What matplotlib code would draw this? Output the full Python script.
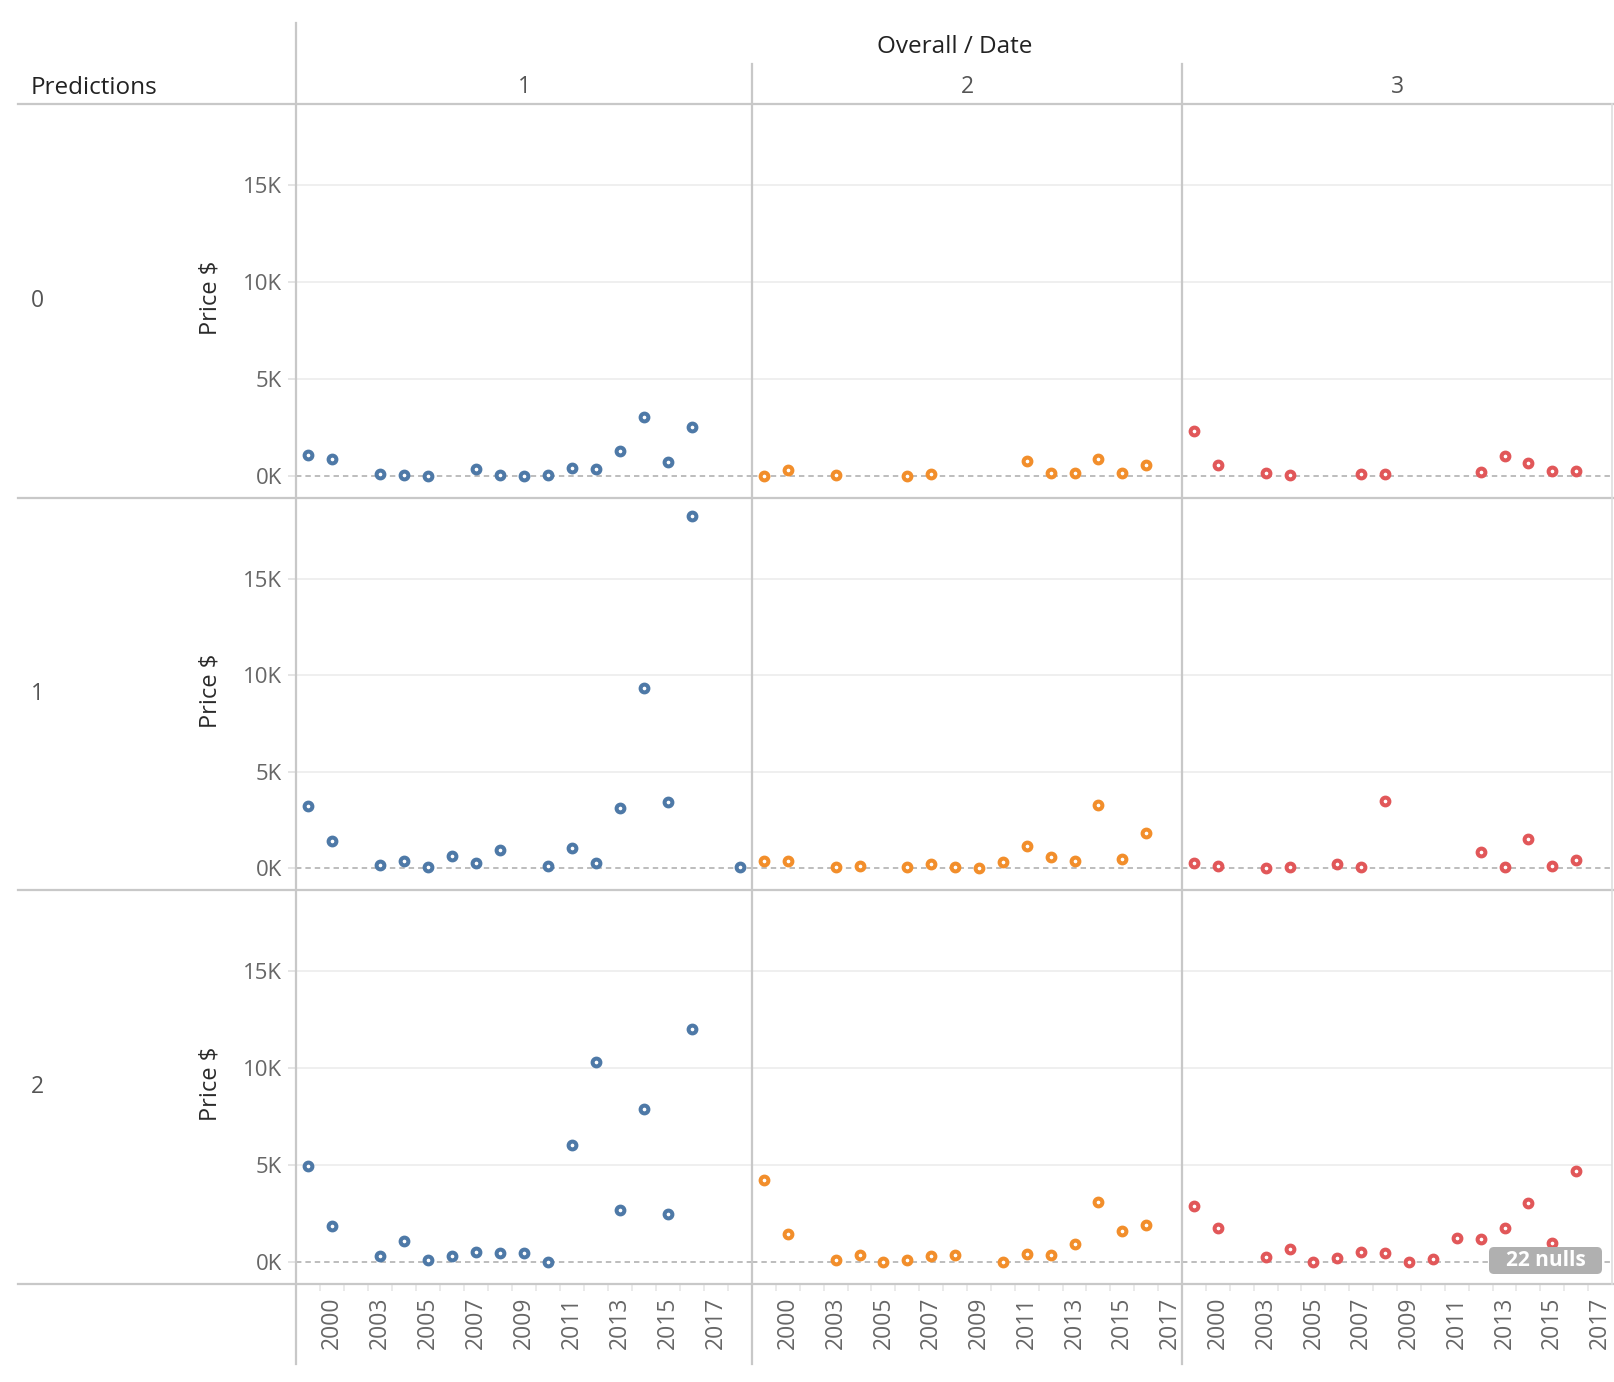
import numpy as np
import matplotlib
matplotlib.use("Agg")
import matplotlib.pyplot as plt
from matplotlib.lines import Line2D
from matplotlib.patches import FancyBboxPatch
from matplotlib.transforms import IdentityTransform

plt.rcParams['font.family'] = ['Open Sans', 'DejaVu Sans']

# ---------------- data ----------------
predictions = ['0', '1', '2']
overall = ['1', '2', '3']
colors = ['#4e79a7', '#f28e2b', '#e15759']

years_col1 = [1999, 2000, 2001, 2003, 2004, 2005, 2006, 2007, 2008, 2009,
              2010, 2011, 2012, 2013, 2014, 2015, 2016, 2017, 2018]
years_col23 = [1999, 2000, 2001, 2003, 2004, 2005, 2006, 2007, 2008, 2009,
               2010, 2011, 2012, 2013, 2014, 2015, 2016, 2017]
x_tick_labels = ['2000', '2003', '2005', '2007', '2009', '2011', '2013', '2015', '2017']
y_ticks = [0, 5000, 10000, 15000]
y_tick_labels = ['0K', '5K', '10K', '15K']
n = None
# Price $ per (prediction, overall) panel, aligned to the year lists above
price_p0_o1 = [1050, 870, n, 100, 20, 10, n, 330, 60, 0, 20, 390, 360, 1300, 3030, 720, 2500, n, n]
price_p1_o1 = [3210, 1410, n, 140, 350, 20, 590, 230, 940, n, 120, 1010, 260, 3120, 9340, 3400, 18250, n, 20]
price_p2_o1 = [4960, 1870, n, 300, 1080, 70, 300, 520, 430, 450, 0, 6040, 10330, 2670, 7880, 2460, 12030, n, n]

price_p0_o2 = [0, 310, n, 30, n, n, 0, 100, n, n, n, 760, 150, 150, 860, 140, 530, n]
price_p1_o2 = [380, 350, n, 20, 90, n, 30, 210, 20, 0, 310, 1110, 560, 360, 3250, 450, 1810, n]
price_p2_o2 = [4220, 1410, n, 90, 350, 0, 100, 310, 330, n, 0, 400, 350, 920, 3070, 1610, 1880, n]

price_p0_o3 = [2320, 530, n, 120, 30, n, n, 90, 70, n, n, n, 170, 1030, 650, 270, 270, n]
price_p1_o3 = [260, 120, n, 0, 20, n, 210, 50, 3470, n, n, n, 830, 30, 1490, 120, 420, n]
price_p2_o3 = [2900, 1750, n, 230, 680, 0, 210, 490, 430, 0, 140, 1230, 1150, 1720, 3020, 950, 4700, n]

panel_values = [
    [price_p0_o1, price_p0_o2, price_p0_o3],
    [price_p1_o1, price_p1_o2, price_p1_o3],
    [price_p2_o1, price_p2_o2, price_p2_o3],
]
panel_years = [years_col1, years_col23, years_col23]
null_count = 22

# ---------------- layout ----------------
W, H = 1614, 1382
fig = plt.figure(figsize=(W / 100, H / 100), dpi=100)
fig.patch.set_facecolor('white')


def fx(x):
    return x / W


def fy(y):
    return 1 - y / H


col_edges = [296, 752, 1182, 1612]
row_edges = [104, 498, 890, 1284]
YMIN, YMAX = -1150, 19200

line_c = '#c8c8c8'
tick_c = '#666666'

for r in range(3):
    for c in range(3):
        x0, x1 = col_edges[c], col_edges[c + 1]
        y0, y1 = row_edges[r], row_edges[r + 1]
        ax = fig.add_axes([fx(x0), fy(y1), (x1 - x0) / W, (y1 - y0) / H])
        yrs = panel_years[c]
        vals = np.array([np.nan if v is None else v for v in panel_values[r][c]], dtype=float)
        idx = np.arange(len(yrs))
        ax.set_xlim(-0.5, len(yrs) - 0.5)
        ax.set_ylim(YMIN, YMAX)
        for s in ax.spines.values():
            s.set_visible(False)
        for t in y_ticks[1:]:
            ax.axhline(t, color='#efefef', lw=1.4, zorder=1)
        ax.axhline(0, color='#b8b8b8', lw=1.3, ls=(0, (3, 2.2)), zorder=1.5)
        ax.plot(idx, vals, 'o', ls='none', ms=5.6, mew=2.9, mfc='white',
                mec=colors[c], zorder=3)
        # y axis
        ax.set_yticks(y_ticks)
        if c == 0:
            ax.set_yticklabels(y_tick_labels)
            ax.tick_params(axis='y', length=6, width=1.2, color='#e0e0e0',
                           labelcolor=tick_c, labelsize=16, pad=4)
        else:
            ax.tick_params(axis='y', left=False, labelleft=False)
        # x axis
        if r == 2:
            pos = [yrs.index(int(l)) for l in x_tick_labels]
            ax.set_xticks(pos)
            ax.set_xticklabels(x_tick_labels, rotation=90, va='top', ha='center')
            ax.set_xticks(idx[:-1] + 0.5, minor=True)
            ax.tick_params(axis='x', which='major', length=0, pad=9,
                           labelcolor=tick_c, labelsize=16.5)
            ax.tick_params(axis='x', which='minor', length=5, width=1.2,
                           color='#e6e6e6')
        else:
            ax.tick_params(axis='x', which='both', bottom=False, labelbottom=False)

# ---------------- frame lines ----------------
def hline(y, x0, x1, c=line_c, lw=1.6):
    fig.add_artist(Line2D([fx(x0), fx(x1)], [fy(y), fy(y)], color=c, lw=lw, zorder=5))


def vline(x, y0, y1, c=line_c, lw=1.6):
    fig.add_artist(Line2D([fx(x), fx(x)], [fy(y0), fy(y1)], color=c, lw=lw, zorder=5))


for y in row_edges:
    hline(y, 18, W)
vline(296, 23, 1364)
vline(752, 64, 1364)
vline(1182, 64, 1364)
vline(1612, 104, 1284, c='#dedede', lw=1.2)

# ---------------- headers ----------------
fig.text(fx(31), fy(88), 'Predictions', ha='left', va='center', fontsize=17.5,
         color='#222222')
fig.text(fx(955), fy(47), 'Overall / Date', ha='center', va='center', fontsize=17.5,
         color='#222222')
for c in range(3):
    fig.text(fx((col_edges[c] + col_edges[c + 1]) / 2), fy(87), overall[c],
             ha='center', va='center', fontsize=16.5, color='#555555')
for r in range(3):
    yc = (row_edges[r] + row_edges[r + 1]) / 2
    fig.text(fx(31), fy(yc), predictions[r], ha='left', va='center', fontsize=16.5,
             color='#555555')
    fig.text(fx(210), fy(yc - 3), 'Price $', ha='center', va='center', rotation=90,
             fontsize=17, color='#2a2a2a')

# ---------------- nulls badge ----------------
badge = FancyBboxPatch((1489, H - 1274), 113, 27,
                       boxstyle='round,pad=0,rounding_size=5',
                       transform=IdentityTransform(), fc='#b0b0b0', ec='none',
                       zorder=6)
fig.add_artist(badge)
fig.text(fx(1545.5), fy(1260.5), f'{null_count} nulls', ha='center', va='center',
         fontsize=15, fontweight='bold', color='white', zorder=7)

fig.savefig('out.png', dpi=100, facecolor='white')
